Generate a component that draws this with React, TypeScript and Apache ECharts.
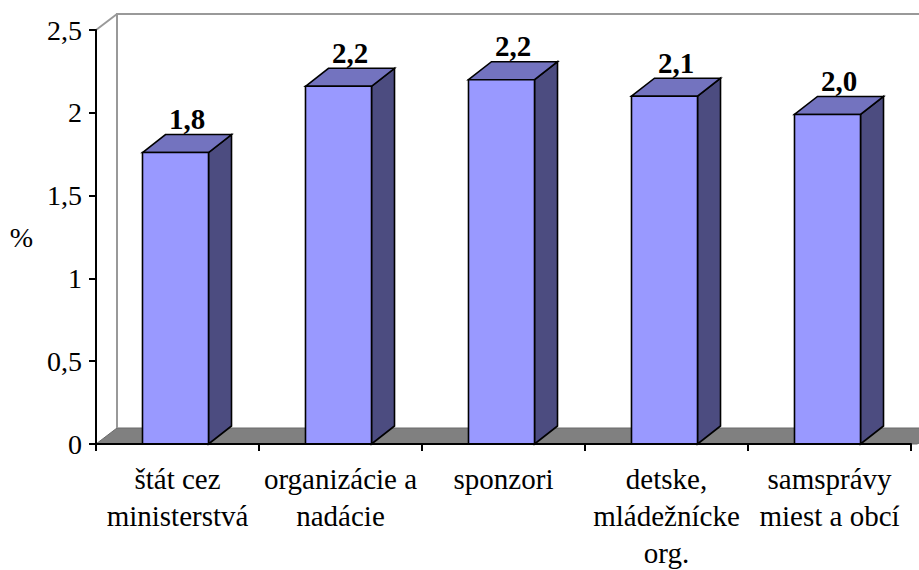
import React, { useEffect, useRef } from "react";
import * as echarts from "echarts";

const categories = [
  "štát cez\nministerstvá",
  "organizácie a\nnadácie",
  "sponzori",
  "detske,\nmládežnícke\norg.",
  "samsprávy\nmiest a obcí",
];
const values = [1.76, 2.16, 2.2, 2.1, 1.99];
const yMin = 0;
const yMax = 2.5;
const yStep = 0.5;
const yAxisName = "%";

const FONT = '"Liberation Serif", "Times New Roman", serif';

export default function App() {
  const ref = useRef<HTMLDivElement>(null);
  useEffect(() => {
    if (!ref.current) return;
    const chart = echarts.init(ref.current, undefined, { renderer: "svg" });
    const DX = 23;
    const DY = -18;
    const WDX = 21;
    const WDY = -16;
    const option: any = {
      animation: false,
      backgroundColor: "#ffffff",
      grid: {
        left: 96,
        right: 8,
        top: 30,
        bottom: 126,
        containLabel: false,
        outerBoundsMode: "none",
      },
      xAxis: {
        type: "category",
        data: categories,
        boundaryGap: true,
        axisLine: { show: true, lineStyle: { color: "#000", width: 2 } },
        axisTick: { show: true, length: 7, lineStyle: { color: "#000", width: 2 } },
        axisLabel: {
          interval: 0,
          color: "#000",
          fontFamily: FONT,
          fontSize: 29,
          lineHeight: 37,
          margin: 16,
        },
        splitLine: { show: false },
        z: 10,
      },
      yAxis: {
        type: "value",
        min: yMin,
        max: yMax,
        interval: yStep,
        name: yAxisName,
        nameLocation: "middle",
        nameRotate: 0,
        nameGap: 63,
        nameTextStyle: { color: "#000", fontFamily: FONT, fontSize: 28 },
        axisLine: { show: true, lineStyle: { color: "#000", width: 2 } },
        axisTick: { show: true, length: 7, lineStyle: { color: "#000", width: 2 } },
        axisLabel: {
          color: "#000",
          fontFamily: FONT,
          fontSize: 28,
          margin: 14,
          formatter: (v: number) => String(v).replace(".", ","),
        },
        splitLine: { show: false },
        z: 10,
      },
      series: [
        {
          type: "custom",
          z: 1,
          silent: true,
          data: [[0, 0]],
          renderItem: (params: any) => {
            const cs = params.coordSys;
            const x = cs.x;
            const y = cs.y;
            const w = cs.width;
            const h = cs.height;
            const yb = y + h;
            return {
              type: "group",
              children: [
                {
                  type: "polygon",
                  shape: {
                    points: [
                      [x, yb],
                      [x + WDX, yb + WDY],
                      [x + w + WDX + 20, yb + WDY],
                      [x + w + 6, yb],
                    ],
                  },
                  style: { fill: "#808080", stroke: "#6a6a6a", lineWidth: 1 },
                },
                {
                  type: "polyline",
                  shape: {
                    points: [
                      [x + WDX, yb + WDY],
                      [x + WDX, y + WDY],
                      [x + w + 40, y + WDY],
                    ],
                  },
                  style: { fill: null, stroke: "#999999", lineWidth: 2 },
                },
                {
                  type: "line",
                  shape: { x1: x, y1: y, x2: x + WDX, y2: y + WDY },
                  style: { stroke: "#999999", lineWidth: 2 },
                },
              ],
            };
          },
        },
        {
          type: "custom",
          z: 2,
          silent: true,
          data: values.map((v, i) => [i, v]),
          encode: { x: 0, y: 1 },
          renderItem: (params: any, api: any) => {
            const idx = api.value(0);
            const v = api.value(1);
            const top = api.coord([idx, v]);
            const base = api.coord([idx, 0]);
            const bw = api.size([1, 0])[0] * 0.405;
            const cx = top[0] - 2;
            const x0 = cx - bw / 2;
            const x1 = cx + bw / 2;
            const yT = top[1];
            const yB = base[1];
            const edge = { stroke: "#000", lineWidth: 1.6, lineJoin: "miter" };
            return {
              type: "group",
              children: [
                {
                  type: "polygon",
                  shape: {
                    points: [
                      [x1, yT],
                      [x1 + DX, yT + DY],
                      [x1 + DX, yB + DY],
                      [x1, yB],
                    ],
                  },
                  style: { fill: "#4C4C80", ...edge },
                },
                {
                  type: "polygon",
                  shape: {
                    points: [
                      [x0, yT],
                      [x0 + DX, yT + DY],
                      [x1 + DX, yT + DY],
                      [x1, yT],
                    ],
                  },
                  style: { fill: "#7373BF", ...edge },
                },
                {
                  type: "rect",
                  shape: { x: x0, y: yT, width: bw, height: yB - yT },
                  style: { fill: "#9999FF", ...edge },
                },
                {
                  type: "text",
                  style: {
                    text: v.toFixed(1).replace(".", ","),
                    x: cx + DX / 2,
                    y: yT + DY - 1,
                    align: "center",
                    verticalAlign: "bottom",
                    fontFamily: FONT,
                    fontSize: 29,
                    fontWeight: "bold",
                    fill: "#000",
                  },
                },
              ],
            };
          },
        },
      ],
    };
    chart.setOption(option);
    return () => chart.dispose();
  }, []);
  return (
    <div
      ref={ref}
      style={{ position: "absolute", left: 0, top: 0, width: 919, height: 570 }}
    />
  );
}
